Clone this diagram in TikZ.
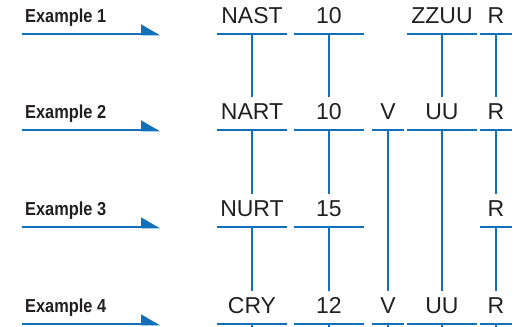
\documentclass[tikz,border=0pt]{standalone}
\usepackage{tikz}
\usetikzlibrary{arrows.meta,positioning,calc}
\usepackage{xcolor}
\usepackage{fontspec}
\setsansfont{Liberation Sans}
\newfontfamily\labelfont[FakeStretch=0.87]{Liberation Sans}
\definecolor{Ink}{HTML}{231F20}
\definecolor{Rule}{HTML}{1170B9}

\begin{document}
\begin{tikzpicture}[x=1pt,y=-1pt,
  rule/.style={draw=Rule,line width=2.6pt},
  word/.style={anchor=south,inner sep=0pt,text height=23pt,text depth=10pt,
    minimum width=#1,text=Ink,font=\sffamily\fontsize{23}{26}\selectfont,
    append after command={(\tikzlastnode.south west) edge[rule] (\tikzlastnode.south east)}},
  exlabel/.style={anchor=south west,inner xsep=3pt,inner ysep=0pt,text depth=11pt,
    text=Ink,font=\labelfont\bfseries\fontsize{18.8}{20}\selectfont},
  pointer/.style={rule},
  pointerhead/.style={fill=Rule}]
\useasboundingbox (0,0) rectangle (520,327);
\coordinate (bottom) at (0,327);
% example labels and arrows
\node[exlabel] (ex1) at (22,34) {Example 1};
\node[exlabel] (ex2) at (22,130) {Example 2};
\node[exlabel] (ex3) at (22,227) {Example 3};
\node[exlabel] (ex4) at (22,324) {Example 4};
\coordinate (end1) at (160,34);
\coordinate (end2) at (160,130);
\coordinate (end3) at (160,227);
\coordinate (end4) at (160,324);
\draw[pointer] (ex1.south west) -- ([xshift=-3pt]end1);
\draw[pointer] (ex2.south west) -- ([xshift=-3pt]end2);
\draw[pointer] (ex3.south west) -- ([xshift=-3pt]end3);
\draw[pointer] (ex4.south west) -- ([xshift=-3pt]end4);
\fill[pointerhead] (end1) ++(0,1.3) -- ++(-19,0) -- ++(0,-11) -- cycle;
\fill[pointerhead] (end2) ++(0,1.3) -- ++(-19,0) -- ++(0,-11) -- cycle;
\fill[pointerhead] (end3) ++(0,1.3) -- ++(-19,0) -- ++(0,-11) -- cycle;
\fill[pointerhead] (end4) ++(0,1.3) -- ++(-19,0) -- ++(0,-11) -- cycle;
% row 1
\node[word=70pt] (nast) at (252,34) {NAST};
\node[word=70pt] (ten1) at (329,34) {10};
\node[word=70pt] (zzuu) at (442,34) {ZZUU};
\node[word=31pt] (r1) at (496,34) {R};
% row 2
\node[word=70pt] (nart) at (252,130) {NART};
\node[word=70pt] (ten2) at (329,130) {10};
\node[word=31pt] (v2) at (388,130) {V};
\node[word=70pt] (uu2) at (442,130) {UU};
\node[word=31pt] (r2) at (496,130) {R};
% row 3
\node[word=70pt] (nurt) at (252,227) {NURT};
\node[word=70pt] (fift) at (329,227) {15};
\node[word=31pt] (r3) at (496,227) {R};
% row 4
\node[word=70pt] (cry) at (252,324) {CRY};
\node[word=70pt] (twelve) at (329,324) {12};
\node[word=31pt] (v4) at (388,324) {V};
\node[word=70pt] (uu4) at (442,324) {UU};
\node[word=31pt] (r4) at (496,324) {R};
% stems
\draw[rule] (nast.south) -- (nart.north);
\draw[rule] (ten1.south) -- (ten2.north);
\draw[rule] (zzuu.south) -- (uu2.north);
\draw[rule] (r1.south) -- (r2.north);
\draw[rule] (nart.south) -- (nurt.north);
\draw[rule] (ten2.south) -- (fift.north);
\draw[rule] (v2.south) -- (v4.north);
\draw[rule] (uu2.south) -- (uu4.north);
\draw[rule] (r2.south) -- (r3.north);
\draw[rule] (nurt.south) -- (cry.north);
\draw[rule] (fift.south) -- (twelve.north);
\draw[rule] (r3.south) -- (r4.north);
\draw[rule] (cry.south) -- (cry.south |- bottom);
\draw[rule] (twelve.south) -- (twelve.south |- bottom);
\draw[rule] (v4.south) -- (v4.south |- bottom);
\draw[rule] (uu4.south) -- (uu4.south |- bottom);
\draw[rule] (r4.south) -- (r4.south |- bottom);
\end{tikzpicture}
\end{document}
